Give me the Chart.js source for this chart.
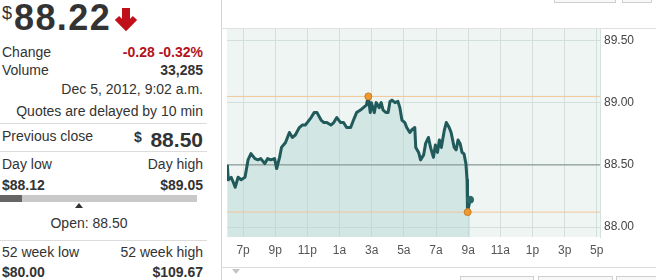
<!DOCTYPE html>
<html>
<head>
<meta charset="utf-8">
<script src="https://cdn.jsdelivr.net/npm/chart.js@4"></script>
<style>
  body { margin: 0; width: 656px; height: 280px; overflow: hidden; background: #fff;
         font-family: 'Liberation Sans', Arial, sans-serif; color: #333; position: relative; }
  .t { position: absolute; font-size: 14px; line-height: 14px; white-space: nowrap; }
  .r { left: 0; width: 203px; text-align: right; }
  .b { font-weight: bold; }
  .red { color: #b3121b; }
  .sep { position: absolute; left: 0; width: 207px; height: 1px; background: #dcdcdc; }
  .box { position: absolute; border: 1px solid #cfcfcf; background: #f8f8f8; }
  #chartBox { position: absolute; left: 222px; top: 0; width: 434px; height: 267px; }
</style>
</head>
<body>
<!-- panneau cotation -->
<div class="t" style="left:2px;top:4px;font-size:18px;line-height:18px;">$</div>
<div class="t b" style="left:14px;top:0;font-size:36px;line-height:36px;letter-spacing:1.4px;">88.22</div>
<svg style="position:absolute;left:113px;top:6px" width="26" height="26">
  <line x1="13" y1="2" x2="13" y2="20" stroke="#c0111b" stroke-width="8"/>
  <polyline points="4,12 13,21 22,12" fill="none" stroke="#c0111b" stroke-width="6"/>
</svg>

<div class="t" style="left:2px;top:45px;">Change</div>
<div class="t r b red" style="top:45px;">-0.28 -0.32%</div>
<div class="t" style="left:2px;top:63px;">Volume</div>
<div class="t r b" style="top:63px;">33,285</div>
<div class="t r" style="top:82px;">Dec 5, 2012, 9:02 a.m.</div>
<div class="t r" style="top:104px;">Quotes are delayed by 10 min</div>
<div class="sep" style="top:123px;"></div>

<div class="t" style="left:2px;top:129px;">Previous close</div>
<div class="t b" style="left:134px;top:130px;">$</div>
<div class="t r b" style="top:129px;font-size:21px;line-height:21px;">88.50</div>
<div class="sep" style="top:151px;"></div>

<div class="t" style="left:2px;top:157px;">Day low</div>
<div class="t r" style="top:157px;">Day high</div>
<div class="t b" style="left:2px;top:178px;">$88.12</div>
<div class="t r b" style="top:178px;">$89.05</div>
<div style="position:absolute;left:0;top:195px;width:197px;height:7px;background:#c9c9c9;"></div>
<div style="position:absolute;left:0;top:195px;width:22px;height:7px;background:#666;"></div>
<div style="position:absolute;left:75px;top:203px;width:0;height:0;border-left:4px solid transparent;border-right:4px solid transparent;border-bottom:5px solid #333;"></div>
<div class="t" style="left:0;width:178px;text-align:center;top:216px;">Open: 88.50</div>
<div class="sep" style="top:240px;"></div>

<div class="t" style="left:2px;top:245px;">52 week low</div>
<div class="t r" style="top:245px;">52 week high</div>
<div class="t b" style="left:2px;top:265px;">$80.00</div>
<div class="t r b" style="top:265px;">$109.67</div>

<!-- graphique -->
<div id="chartBox"><canvas id="quoteChart" width="434" height="267"></canvas></div>
<div style="position:absolute;left:221px;top:0;width:1px;height:280px;background:#d2d2d2;"></div>
<div style="position:absolute;left:221px;top:28px;width:435px;height:1px;background:#e0e0e0;"></div>
<div style="position:absolute;left:221px;top:267px;width:435px;height:1px;background:#dcdcdc;"></div>
<div style="position:absolute;left:232px;top:269px;width:0;height:0;border-left:4px solid transparent;border-right:4px solid transparent;border-top:5px solid #c4c4c4;"></div>
<div class="box" style="left:460px;top:276px;width:72px;height:12px;"></div>
<div class="box" style="left:538px;top:276px;width:73px;height:12px;"></div>
<div class="box" style="left:616px;top:276px;width:50px;height:12px;"></div>
<div class="box" style="left:554px;top:-12px;width:60px;height:13px;"></div>
<div class="box" style="left:622px;top:-12px;width:28px;height:13px;"></div>

<script>
// heures depuis 18h (6p = 0)
const times = [0.02, 0.08, 0.26, 0.39, 0.51, 0.69, 0.88, 1.00, 1.12, 1.31,
  1.49, 1.74, 1.92, 2.10, 2.35, 2.53, 2.72, 2.96, 3.09, 3.27,
  3.39, 3.64, 3.88, 4.07, 4.25, 4.50, 4.68, 4.87, 4.99, 5.23,
  5.42, 5.60, 5.85, 6.03, 6.21, 6.46, 6.64, 6.83, 7.07, 7.25,
  7.44, 7.69, 7.87, 8.06, 8.30, 8.48, 8.67, 8.79, 8.91, 8.98,
  9.16, 9.28, 9.47, 9.59, 9.71, 9.90, 10.02, 10.14, 10.26, 10.45,
  10.63, 10.75, 10.88, 11.06, 11.18, 11.37, 11.49, 11.68, 11.74, 11.92,
  12.04, 12.23, 12.35, 12.53, 12.66, 12.84, 12.96, 13.09, 13.21, 13.33,
  13.52, 13.64, 13.82, 13.94, 14.13, 14.25, 14.37, 14.50, 14.62, 14.74,
  14.86, 14.93, 14.95, 14.97, 15.12];
const prices = [88.50, 88.38, 88.40, 88.36, 88.32, 88.40, 88.38, 88.39, 88.40, 88.54,
  88.59, 88.55, 88.54, 88.55, 88.51, 88.55, 88.54, 88.55, 88.47, 88.56,
  88.64, 88.68, 88.76, 88.72, 88.74, 88.80, 88.82, 88.82, 88.84, 88.88,
  88.92, 88.92, 88.86, 88.84, 88.84, 88.82, 88.84, 88.88, 88.84, 88.84,
  88.80, 88.80, 88.86, 88.92, 88.94, 88.96, 88.98, 89.05, 88.92, 89.00,
  88.92, 89.00, 88.96, 89.00, 88.94, 88.92, 88.92, 89.01, 89.02, 89.00,
  89.01, 88.96, 88.86, 88.84, 88.80, 88.76, 88.78, 88.80, 88.64, 88.60,
  88.54, 88.58, 88.67, 88.72, 88.64, 88.56, 88.66, 88.60, 88.70, 88.64,
  88.78, 88.84, 88.80, 88.76, 88.64, 88.62, 88.70, 88.67, 88.60, 88.59,
  88.51, 88.38, 88.19, 88.12, 88.22];

const dayHigh = 89.05;
const dayLow = 88.12;
const prevClose = 88.50;
const extremeTimes = [8.79, 14.97];   // plus haut, plus bas
const extremePrices = [89.05, 88.12];
const lastTime = 15.12;
const lastPrice = 88.22;

const tickHours = [1, 3, 5, 7, 9, 11, 13, 15, 17, 19, 21, 23];
const tickLabels = ['7p', '9p', '11p', '1a', '3a', '5a', '7a', '9a', '11a', '1p', '3p', '5p'];
const yTicks = [88.00, 88.50, 89.00, 89.50];

const X_MIN = 0, X_MAX = 23.2;
const Y_MIN = 87.92, Y_MAX = 89.60;

Chart.defaults.font.family = "'Liberation Sans', Arial, sans-serif";

function horizontal(v) {
    return [{ x: X_MIN, y: v }, { x: X_MAX, y: v }];
}

const plotBg = {
    id: 'plotBg',
    beforeDraw(chart) {
        const { ctx, chartArea: a } = chart;
        ctx.save();
        ctx.fillStyle = '#eef5f2';
        ctx.fillRect(a.left, a.top, a.right - a.left, a.bottom - a.top);
        ctx.restore();
    }
};

const gridColor = '#d3dfdb';

new Chart(document.getElementById('quoteChart'), {
    type: 'line',
    data: {
        datasets: [
            {
                data: extremeTimes.map((t, i) => ({ x: t, y: extremePrices[i] })),
                showLine: false,
                pointRadius: 3.5,
                pointBackgroundColor: '#ee9a2e',
                pointBorderColor: '#c97c22',
                pointBorderWidth: 1,
                order: 0
            },
            {
                data: [{ x: lastTime, y: lastPrice }],
                showLine: false,
                pointRadius: 3.5,
                pointBackgroundColor: '#2b6666',
                pointBorderColor: '#2b6666',
                order: 0
            },
            {
                data: times.map((t, i) => ({ x: t, y: prices[i] })),
                borderColor: '#215a5a',
                borderWidth: 3,
                borderJoinStyle: 'round',
                backgroundColor: 'rgba(176,213,210,0.45)',
                fill: 'start',
                pointRadius: 0,
                tension: 0,
                order: 1
            },
            { data: horizontal(dayHigh), borderColor: '#f1c69a', borderWidth: 1, pointRadius: 0, order: 2 },
            { data: horizontal(dayLow), borderColor: '#f1c69a', borderWidth: 1, pointRadius: 0, order: 2 },
            { data: horizontal(prevClose), borderColor: '#8e9c99', borderWidth: 1.3, pointRadius: 0, order: 2 }
        ]
    },
    options: {
        responsive: false,
        animation: false,
        layout: { padding: { top: 28, left: 0, right: 0, bottom: 0 } },
        plugins: {
            legend: { display: false },
            tooltip: { enabled: false },
            filler: { drawTime: 'beforeDatasetsDraw' }
        },
        scales: {
            x: {
                type: 'linear',
                min: X_MIN,
                max: X_MAX,
                grid: { color: gridColor, drawTicks: false },
                border: { display: false },
                afterBuildTicks: s => { s.ticks = tickHours.map(v => ({ value: v })); },
                ticks: {
                    callback: v => tickLabels[tickHours.indexOf(v)],
                    color: '#555',
                    font: { size: 12 },
                    padding: 6,
                    maxRotation: 0,
                    autoSkip: false
                },
                afterFit: s => { s.height = 30; }
            },
            y: {
                position: 'right',
                min: Y_MIN,
                max: Y_MAX,
                grid: { color: gridColor, drawTicks: false },
                border: { display: true, color: '#d6e0dd' },
                afterBuildTicks: s => { s.ticks = yTicks.map(v => ({ value: v })); },
                ticks: {
                    callback: v => v.toFixed(2),
                    color: '#444',
                    font: { size: 12 },
                    padding: 4
                },
                afterFit: s => { s.width = 56; }
            }
        }
    },
    plugins: [plotBg]
});
</script>
</body>
</html>
